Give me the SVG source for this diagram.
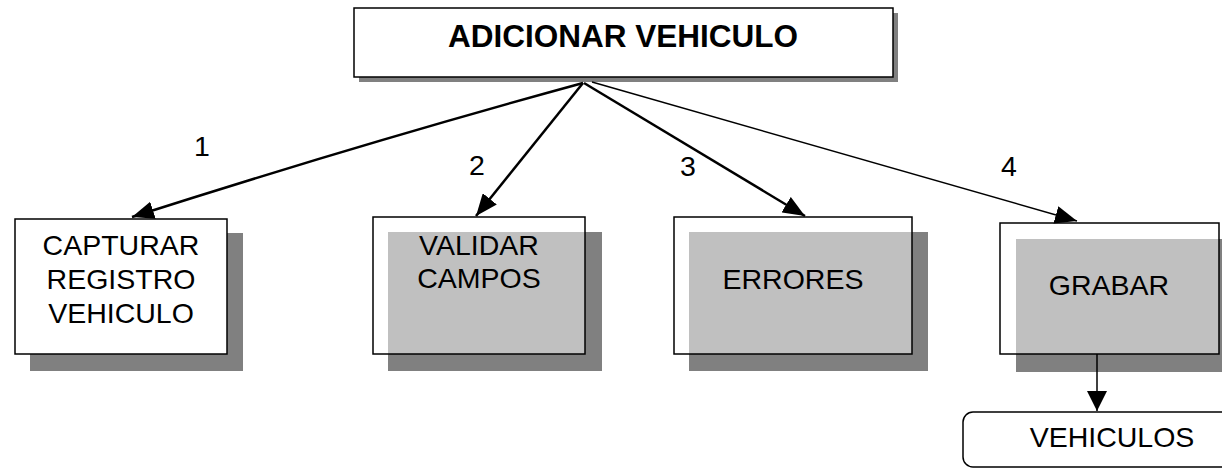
<svg xmlns="http://www.w3.org/2000/svg" width="1222" height="468" viewBox="0 0 1222 468">
<defs>
<style>
.shadow{fill:#808080;stroke:none}
.box{fill:#ffffff;stroke:#000;stroke-width:1.5}
.tbox{fill:#ffffff;fill-opacity:0.5;stroke:#000;stroke-width:1.5}
.lbl{font-family:"Liberation Sans",Arial,sans-serif;font-size:28.5px;fill:#000}
.ttl{font-family:"Liberation Sans",Arial,sans-serif;font-size:31.5px;font-weight:bold;fill:#000}
.c{text-anchor:middle}
.conn{fill:none;stroke:#000}
</style>
<marker id="ah" viewBox="0 0 22 18" refX="22" refY="9" markerWidth="22" markerHeight="18" markerUnits="userSpaceOnUse" orient="auto">
<path d="M0,0 L22,9 L0,18 z" fill="#000"/>
</marker>
<marker id="ahv" viewBox="0 0 20 20" refX="20" refY="10" markerWidth="20" markerHeight="20" markerUnits="userSpaceOnUse" orient="auto">
<path d="M0,0 L20,10 L0,20 z" fill="#000"/>
</marker>
</defs>
<rect width="1222" height="468" fill="#fff"/>
<g id="adicionar">
<rect class="shadow" x="359" y="13" width="539" height="69"/>
<rect class="box" x="354" y="8" width="539" height="69"/>
<text class="ttl c" x="623" y="47">ADICIONAR VEHICULO</text>
</g>
<g id="capturar">
<rect class="shadow" x="30" y="233" width="213" height="138"/>
<rect class="box" x="15" y="219" width="212" height="135"/>
<text class="lbl c" x="121" y="255">CAPTURAR</text>
<text class="lbl c" x="121" y="289">REGISTRO</text>
<text class="lbl c" x="121" y="323">VEHICULO</text>
</g>
<g id="validar">
<rect class="shadow" x="388" y="232" width="214" height="139"/>
<rect class="tbox" x="373" y="217" width="212" height="137"/>
<text class="lbl c" x="479" y="255">VALIDAR</text>
<text class="lbl c" x="479" y="288">CAMPOS</text>
</g>
<g id="errores">
<rect class="shadow" x="689" y="232" width="239" height="139"/>
<rect class="tbox" x="674" y="217" width="238" height="137"/>
<text class="lbl c" x="793" y="289">ERRORES</text>
</g>
<g id="grabar">
<rect class="shadow" x="1016" y="239" width="220" height="133"/>
<rect class="tbox" x="1000" y="223" width="219" height="131"/>
<text class="lbl c" x="1109" y="295">GRABAR</text>
</g>
<g id="vehiculos">
<path d="M1224,412 H973 A10,10 0 0 0 963,422 V457 A10,10 0 0 0 973,467 H1224" fill="#fff" stroke="#000" stroke-width="1.5"/>
<text class="lbl c" x="1112" y="447">VEHICULOS</text>
</g>
<g id="connectors">
<path class="conn" d="M583,83 Q360,144 132,217" stroke-width="2.5" marker-end="url(#ah)"/>
<path class="conn" d="M583,83 L476,216" stroke-width="2.5" marker-end="url(#ah)"/>
<path class="conn" d="M584,83 L805,216" stroke-width="2.5" marker-end="url(#ah)"/>
<path class="conn" d="M592,82 L1077,221" stroke-width="1.5" marker-end="url(#ah)"/>
<path class="conn" d="M1097,354 L1097,411" stroke-width="1.5" marker-end="url(#ahv)"/>
<text class="lbl" x="194" y="156">1</text>
<text class="lbl" x="469" y="175">2</text>
<text class="lbl" x="680" y="176">3</text>
<text class="lbl" x="1001" y="176">4</text>
</g>
</svg>
